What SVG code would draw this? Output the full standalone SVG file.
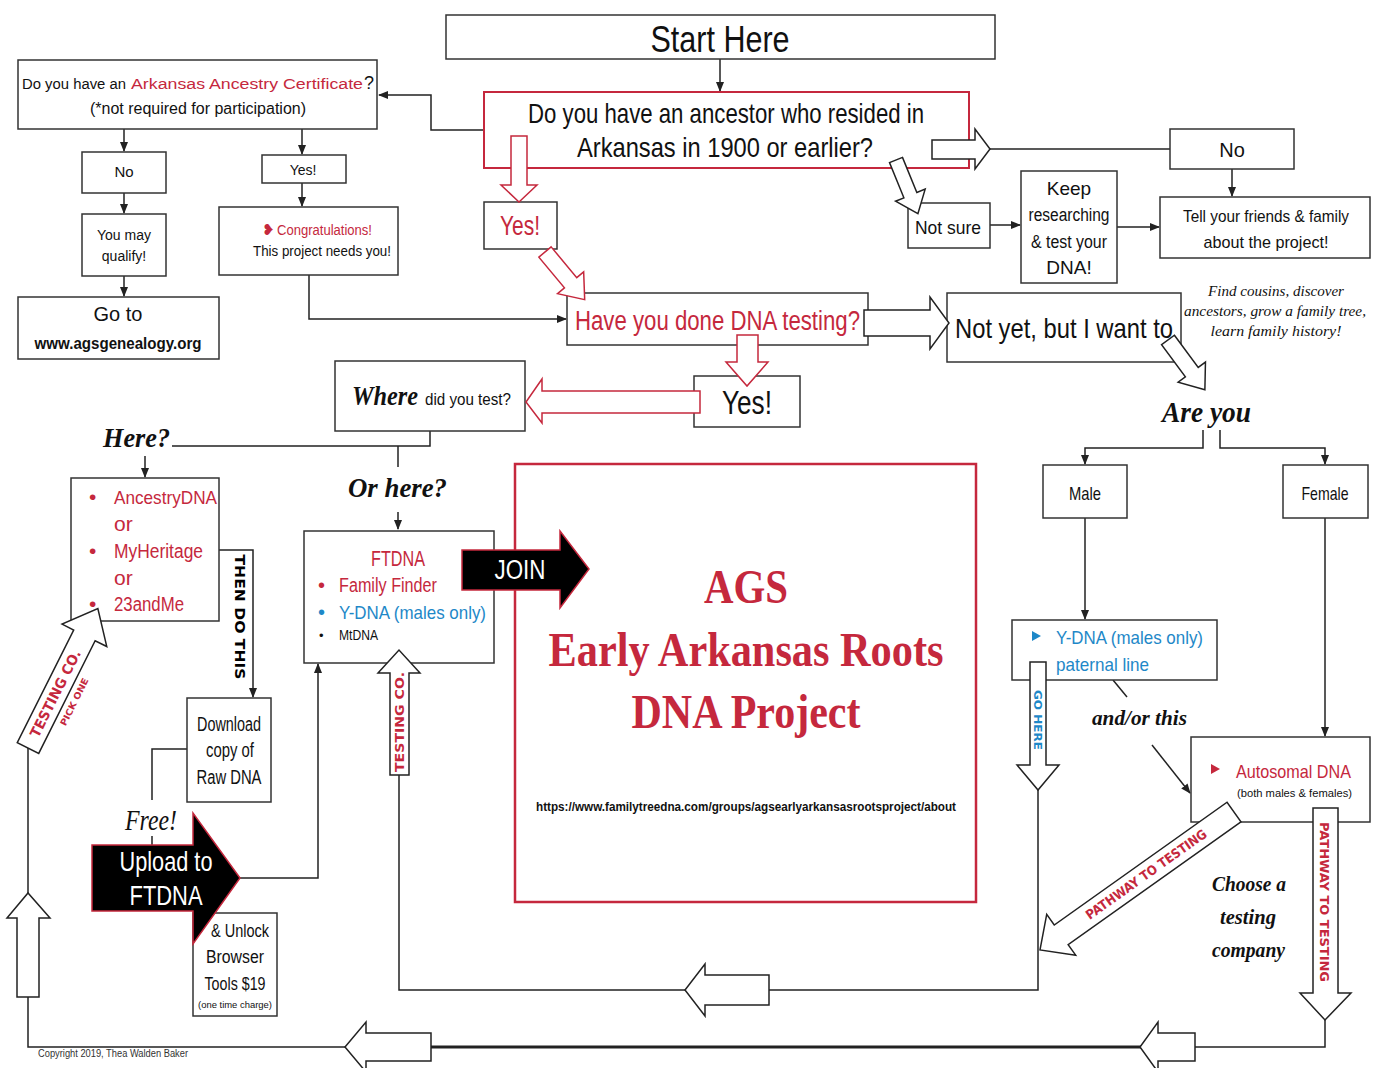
<svg xmlns="http://www.w3.org/2000/svg" width="1379" height="1068" viewBox="0 0 1379 1068">
<style>
.bx{fill:#fff;stroke:#333;stroke-width:1.5}
.rbx{fill:#fff;stroke:#c5283d;stroke-width:2}
.ln{fill:none;stroke:#222;stroke-width:1.5}
.ha{fill:#fff;stroke:#222;stroke-width:1.5;stroke-linejoin:miter}
.hr{fill:#fff;stroke:#c5283d;stroke-width:1.5}
.ba{fill:#000;stroke:#c5283d;stroke-width:1.5}
.t{font-family:'Liberation Sans Narrow','Liberation Sans',sans-serif;fill:#111}
.c{text-anchor:middle}
.red{fill:#c5283d}
.blu{fill:#1e88c8}
.wh{fill:#fff}
.sc{font-family:'Liberation Serif','DejaVu Serif',serif;font-style:italic;fill:#111}
.stamp{font-family:'DejaVu Sans',sans-serif;font-weight:bold}
.ttl{font-family:'Liberation Serif',serif;font-weight:bold;fill:#c5283d;text-anchor:middle}
</style>
<defs>
<marker id="ah" markerWidth="10" markerHeight="10" refX="9" refY="5" orient="auto" markerUnits="userSpaceOnUse"><path d="M0,1 L10,5 L0,9 z" fill="#222"/></marker>
</defs>
<rect width="1379" height="1068" fill="#fff"/>

<g id="connectors">
<path class="ln" d="M720,59 V91" marker-end="url(#ah)"/>
<path class="ln" d="M484,130 H431 V95 H379" marker-end="url(#ah)"/>
<path class="ln" d="M124,129 V151" marker-end="url(#ah)"/>
<path class="ln" d="M124,193 V213" marker-end="url(#ah)"/>
<path class="ln" d="M124,276 V296" marker-end="url(#ah)"/>
<path class="ln" d="M302,129 V154" marker-end="url(#ah)"/>
<path class="ln" d="M302,183 V206" marker-end="url(#ah)"/>
<path class="ln" d="M309,275 V319 H566" marker-end="url(#ah)"/>
<path class="ln" d="M990,149 H1170"/>
<path class="ln" d="M1232,169 V196" marker-end="url(#ah)"/>
<path class="ln" d="M990,225 H1020" marker-end="url(#ah)"/>
<path class="ln" d="M1117,227 H1159" marker-end="url(#ah)"/>
<path class="ln" d="M430,431 V446 H172"/>
<path class="ln" d="M145,456 V477" marker-end="url(#ah)"/>
<path class="ln" d="M398,446 V467"/>
<path class="ln" d="M398,512 V529" marker-end="url(#ah)"/>
<path class="ln" d="M219,550 H253 V697" marker-end="url(#ah)"/>
<path class="ln" d="M187,749 H152 V800 M152,836 V845"/>
<path class="ln" d="M240,878 H318 V664" marker-end="url(#ah)"/>
<path class="ln" d="M1203,430 V448 H1085 V464" marker-end="url(#ah)"/>
<path class="ln" d="M1220,430 V448 H1325 V464" marker-end="url(#ah)"/>
<path class="ln" d="M1085,518 V619" marker-end="url(#ah)"/>
<path class="ln" d="M1325,518 V736" marker-end="url(#ah)"/>
<path class="ln" d="M1113,680 L1127,697"/>
<path class="ln" d="M1152,745 L1190,793" marker-end="url(#ah)"/>
<path class="ln" d="M1038,790 V990 H769"/>
<path class="ln" d="M685,990 H399 V775"/>
<path class="ln" d="M1325,1020 V1047 H1195"/>
<path class="ln" d="M1158,1047 H431" style="stroke-width:3"/>
<path class="ln" d="M345,1047 H28 V997"/>
<path class="ln" d="M28,893 V748"/>
</g>

<g id="start-here"><rect class="bx" x="446" y="15" width="549" height="44"/><text class="t c" x="720" y="52" font-size="36" textLength="139" lengthAdjust="spacingAndGlyphs">Start Here</text></g>

<g id="ancestor-question"><rect class="rbx" x="484" y="92" width="485" height="76"/>
<text class="t c" x="726" y="123" font-size="28" textLength="396" lengthAdjust="spacingAndGlyphs">Do you have an ancestor who resided in</text>
<text class="t c" x="725" y="157" font-size="28" textLength="296" lengthAdjust="spacingAndGlyphs">Arkansas in 1900 or earlier?</text></g>

<g id="certificate"><rect class="bx" x="18" y="60" width="359" height="69"/>
<text class="t" x="22" y="89" font-size="15.5" textLength="104" lengthAdjust="spacingAndGlyphs">Do you have an</text>
<text class="t red" x="131" y="89" font-size="15.5" textLength="232" lengthAdjust="spacingAndGlyphs">Arkansas Ancestry Certificate</text>
<text class="t" x="364" y="89" font-size="18">?</text>
<text class="t" x="90" y="114" font-size="16" textLength="216" lengthAdjust="spacingAndGlyphs">(*not required for participation)</text></g>

<g id="cert-no"><rect class="bx" x="82" y="152" width="84" height="41"/><text class="t c" x="124" y="177" font-size="15">No</text></g>
<g id="may-qualify"><rect class="bx" x="82" y="214" width="84" height="62"/><text class="t c" x="124" y="240" font-size="14">You may</text><text class="t c" x="124" y="261" font-size="14">qualify!</text></g>
<g id="go-to"><rect class="bx" x="18" y="297" width="201" height="62"/><text class="t c" x="118" y="321" font-size="20">Go to</text><text class="t c" x="118" y="349" font-size="17" font-weight="bold" textLength="167" lengthAdjust="spacingAndGlyphs">www.agsgenealogy.org</text></g>
<g id="cert-yes"><rect class="bx" x="262" y="155" width="84" height="28"/><text class="t c" x="303" y="175" font-size="14">Yes!</text></g>
<g id="congrats"><rect class="bx" x="219" y="207" width="179" height="68"/>
<text x="262" y="235" font-size="15" class="red" style="font-family:'DejaVu Sans',sans-serif">❥</text>
<text class="t red" x="277" y="235" font-size="14" textLength="95" lengthAdjust="spacingAndGlyphs">Congratulations!</text>
<text class="t c" x="322" y="256" font-size="15" textLength="138" lengthAdjust="spacingAndGlyphs">This project needs you!</text></g>

<g id="yes-1"><rect class="bx" x="484" y="202" width="73" height="47"/><text class="t c red" x="520" y="235" font-size="28" textLength="40" lengthAdjust="spacingAndGlyphs">Yes!</text></g>
<g id="not-sure"><rect class="bx" x="908" y="203" width="82" height="45"/><text class="t c" x="948" y="234" font-size="19" textLength="66" lengthAdjust="spacingAndGlyphs">Not sure</text></g>
<g id="keep-researching"><rect class="bx" x="1021" y="171" width="96" height="112"/>
<text class="t c" x="1069" y="195" font-size="19">Keep</text>
<text class="t c" x="1069" y="221" font-size="18" textLength="81" lengthAdjust="spacingAndGlyphs">researching</text>
<text class="t c" x="1069" y="248" font-size="18" textLength="76" lengthAdjust="spacingAndGlyphs">&amp; test your</text>
<text class="t c" x="1069" y="274" font-size="19">DNA!</text></g>
<g id="no-right"><rect class="bx" x="1170" y="129" width="124" height="40"/><text class="t c" x="1232" y="157" font-size="20">No</text></g>
<g id="tell-friends"><rect class="bx" x="1160" y="197" width="210" height="61"/>
<text class="t c" x="1266" y="222" font-size="17" textLength="166" lengthAdjust="spacingAndGlyphs">Tell your friends &amp; family</text>
<text class="t c" x="1266" y="248" font-size="17" textLength="125" lengthAdjust="spacingAndGlyphs">about the project!</text></g>
<g id="find-cousins">
<text class="sc c" x="1276" y="296" font-size="15.5" textLength="136" lengthAdjust="spacingAndGlyphs">Find cousins, discover</text>
<text class="sc c" x="1275" y="316" font-size="15.5" textLength="182" lengthAdjust="spacingAndGlyphs">ancestors, grow a family tree,</text>
<text class="sc c" x="1276" y="336" font-size="15.5" textLength="131" lengthAdjust="spacingAndGlyphs">learn family history!</text></g>

<g id="dna-testing"><rect class="bx" x="567" y="293" width="301" height="52"/><text class="t red" x="575" y="330" font-size="27" textLength="285" lengthAdjust="spacingAndGlyphs">Have you done DNA testing?</text></g>
<g id="not-yet"><rect class="bx" x="947" y="293" width="234" height="69"/><text class="t" x="955" y="338" font-size="28" textLength="218" lengthAdjust="spacingAndGlyphs">Not yet, but I want to</text></g>
<g id="yes-2"><rect class="bx" x="694" y="376" width="106" height="51"/><text class="t" x="722" y="414" font-size="34" textLength="50" lengthAdjust="spacingAndGlyphs">Yes!</text></g>
<g id="where"><rect class="bx" x="335" y="361" width="190" height="70"/>
<text class="sc" x="352" y="405" font-size="27" font-weight="bold" textLength="66" lengthAdjust="spacingAndGlyphs">Where</text>
<text class="t" x="425" y="405" font-size="17" textLength="86" lengthAdjust="spacingAndGlyphs">did you test?</text></g>

<g id="here-label"><text class="sc" x="103" y="447" font-size="28" font-weight="bold" textLength="67" lengthAdjust="spacingAndGlyphs">Here?</text></g>
<g id="or-here-label"><text class="sc" x="348" y="497" font-size="28" font-weight="bold" textLength="99" lengthAdjust="spacingAndGlyphs">Or here?</text></g>

<g id="other-companies"><rect class="bx" x="71" y="478" width="148" height="143"/>
<text class="t red" x="89" y="504" font-size="21">•</text><text class="t red" x="114" y="504" font-size="19" textLength="103" lengthAdjust="spacingAndGlyphs">AncestryDNA</text>
<text class="t red" x="114" y="531" font-size="21">or</text>
<text class="t red" x="89" y="558" font-size="21">•</text><text class="t red" x="114" y="558" font-size="20" textLength="89" lengthAdjust="spacingAndGlyphs">MyHeritage</text>
<text class="t red" x="114" y="585" font-size="21">or</text>
<text class="t red" x="89" y="611" font-size="21">•</text><text class="t red" x="114" y="611" font-size="20" textLength="70" lengthAdjust="spacingAndGlyphs">23andMe</text></g>
<g id="then-do-this"><text class="stamp c" transform="translate(240,617) rotate(90)" x="0" y="5" font-size="14" textLength="125" lengthAdjust="spacingAndGlyphs">THEN DO THIS</text></g>

<g id="download"><rect class="bx" x="187" y="698" width="84" height="104"/>
<text class="t c" x="229" y="731" font-size="20" textLength="64" lengthAdjust="spacingAndGlyphs">Download</text>
<text class="t c" x="230" y="757" font-size="20" textLength="48" lengthAdjust="spacingAndGlyphs">copy of</text>
<text class="t c" x="229" y="784" font-size="20" textLength="65" lengthAdjust="spacingAndGlyphs">Raw DNA</text></g>
<g id="free-label"><text class="sc" x="125" y="830" font-size="30" textLength="52" lengthAdjust="spacingAndGlyphs">Free!</text></g>

<g id="unlock"><rect class="bx" x="193" y="913" width="84" height="103"/>
<text class="t c" x="240" y="937" font-size="18" textLength="58" lengthAdjust="spacingAndGlyphs">&amp; Unlock</text>
<text class="t c" x="235" y="963" font-size="18" textLength="58" lengthAdjust="spacingAndGlyphs">Browser</text>
<text class="t c" x="235" y="990" font-size="18" textLength="61" lengthAdjust="spacingAndGlyphs">Tools $19</text>
<text class="t c" x="235" y="1008" font-size="9" textLength="74" lengthAdjust="spacingAndGlyphs">(one time charge)</text></g>

<g id="ftdna"><rect class="bx" x="304" y="531" width="190" height="132"/>
<text class="t c red" x="398" y="566" font-size="22" textLength="54" lengthAdjust="spacingAndGlyphs">FTDNA</text>
<text class="t red" x="318" y="592" font-size="20">•</text><text class="t red" x="339" y="592" font-size="20" textLength="98" lengthAdjust="spacingAndGlyphs">Family Finder</text>
<text class="t blu" x="318" y="619" font-size="20">•</text><text class="t blu" x="339" y="619" font-size="19" textLength="147" lengthAdjust="spacingAndGlyphs">Y-DNA (males only)</text>
<text class="t" x="319" y="640" font-size="13">•</text><text class="t" x="339" y="640" font-size="14" textLength="39" lengthAdjust="spacingAndGlyphs">MtDNA</text></g>

<g id="ags-project"><rect x="515" y="464" width="461" height="438" fill="#fff" stroke="#c5283d" stroke-width="2.5"/>
<text class="ttl" x="746" y="603" font-size="48" textLength="84" lengthAdjust="spacingAndGlyphs">AGS</text>
<text class="ttl" x="746" y="666" font-size="48" textLength="395" lengthAdjust="spacingAndGlyphs">Early Arkansas Roots</text>
<text class="ttl" x="746" y="728" font-size="48" textLength="229" lengthAdjust="spacingAndGlyphs">DNA Project</text>
<text x="746" y="811" font-size="12" font-weight="bold" text-anchor="middle" style="font-family:'Liberation Sans',sans-serif" fill="#111" textLength="420" lengthAdjust="spacingAndGlyphs">https://www.familytreedna.com/groups/agsearlyarkansasrootsproject/about</text></g>

<g id="are-you-label"><text class="sc" x="1162" y="422" font-size="30" font-weight="bold" textLength="89" lengthAdjust="spacingAndGlyphs">Are you</text></g>
<g id="male"><rect class="bx" x="1043" y="465" width="84" height="53"/><text class="t c" x="1085" y="500" font-size="19" textLength="32" lengthAdjust="spacingAndGlyphs">Male</text></g>
<g id="female"><rect class="bx" x="1283" y="465" width="85" height="53"/><text class="t c" x="1325" y="500" font-size="19" textLength="47" lengthAdjust="spacingAndGlyphs">Female</text></g>
<g id="ydna"><rect class="bx" x="1012" y="620" width="205" height="60"/>
<polygon points="1032,631 1041,636 1032,641" fill="#1e88c8"/>
<text class="t blu" x="1056" y="644" font-size="19" textLength="147" lengthAdjust="spacingAndGlyphs">Y-DNA (males only)</text>
<text class="t blu" x="1056" y="671" font-size="19" textLength="93" lengthAdjust="spacingAndGlyphs">paternal line</text></g>
<g id="and-or-label"><text class="sc" x="1092" y="725" font-size="21" font-weight="bold" textLength="95" lengthAdjust="spacingAndGlyphs">and/or this</text></g>
<g id="autosomal"><rect class="bx" x="1191" y="737" width="179" height="85"/>
<polygon points="1211,764 1220,769 1211,774" fill="#c5283d"/>
<text class="t red" x="1236" y="778" font-size="19" textLength="115" lengthAdjust="spacingAndGlyphs">Autosomal DNA</text>
<text class="t" x="1237" y="797" font-size="11" textLength="115" lengthAdjust="spacingAndGlyphs">(both males &amp; females)</text></g>
<g id="choose-label">
<text class="sc" x="1212" y="891" font-size="21" font-weight="bold" textLength="74" lengthAdjust="spacingAndGlyphs">Choose a</text>
<text class="sc" x="1220" y="924" font-size="21" font-weight="bold" textLength="56" lengthAdjust="spacingAndGlyphs">testing</text>
<text class="sc" x="1212" y="957" font-size="21" font-weight="bold" textLength="73" lengthAdjust="spacingAndGlyphs">company</text></g>
<g id="copyright"><text x="38" y="1057" font-size="10" style="font-family:'Liberation Sans',sans-serif" fill="#333" textLength="150" lengthAdjust="spacingAndGlyphs">Copyright 2019, Thea Walden Baker</text></g>

<g id="block-arrows">
<polygon class="hr" points="511,136 527,136 527,185 537,185 519,202 501,185 511,185"/>
<path class="hr" transform="translate(545,252) rotate(50.2)" d="M0,-8 H40 V-17 L62,0 L40,17 V8 H0 Z"/>
<polygon class="ha" points="932,140 975,140 975,129 990,149 975,169 975,159 932,159"/>
<path class="ha" transform="translate(896,160) rotate(67.8)" d="M0,-7 H38 V-16 L58,0 L38,16 V7 H0 Z"/>
<polygon class="ha" points="864,310 930,310 930,297 949,323 930,349 930,336 864,336"/>
<path class="ha" transform="translate(1168,340) rotate(53.5)" d="M0,-8 H40 V-17 L62,0 L40,17 V8 H0 Z"/>
<polygon class="hr" points="737,335 758,335 758,362 768,362 747,386 726,362 737,362"/>
<polygon class="hr" points="700,391 542,391 542,379 526,402 542,423 542,413 700,413"/>
<g id="join-arrow"><polygon class="ba" points="462,550 560,550 560,531 589,569 560,608 560,590 462,590"/>
<text class="t c wh" x="520" y="579" font-size="27" textLength="51" lengthAdjust="spacingAndGlyphs">JOIN</text></g>
<g id="upload-arrow"><polygon class="ba" points="92,845 193,845 193,813 240,878 193,944 193,911 92,911"/>
<text class="t c wh" x="166" y="871" font-size="28" textLength="93" lengthAdjust="spacingAndGlyphs">Upload to</text>
<text class="t c wh" x="166" y="905" font-size="28" textLength="73" lengthAdjust="spacingAndGlyphs">FTDNA</text></g>
<g id="testing-co-up"><polygon class="ha" points="390,775 390,673 378,673 399,650 420,673 409,673 409,775"/>
<text class="stamp c red" transform="translate(399,722) rotate(-90)" x="0" y="5" font-size="13" textLength="100" lengthAdjust="spacingAndGlyphs">TESTING CO.</text></g>
<g id="go-here"><polygon class="ha" points="1030,662 1046,662 1046,765 1059,765 1038,790 1017,765 1030,765"/>
<text class="stamp c blu" transform="translate(1038,720) rotate(90)" x="0" y="4" font-size="11" textLength="60" lengthAdjust="spacingAndGlyphs">GO HERE</text></g>
<g id="pathway-diag"><path class="ha" transform="translate(1234,812) rotate(144.6)" d="M0,-12 H212 V-25 L238,0 L212,25 V12 H0 Z"/>
<text class="stamp c red" transform="translate(1146,874) rotate(-35.4)" x="0" y="5" font-size="13" textLength="145" lengthAdjust="spacingAndGlyphs">PATHWAY TO TESTING</text></g>
<g id="pathway-down"><polygon class="ha" points="1313,808 1338,808 1338,993 1351,993 1325,1020 1300,993 1313,993"/>
<text class="stamp c red" transform="translate(1325,902) rotate(90)" x="0" y="5" font-size="13" textLength="160" lengthAdjust="spacingAndGlyphs">PATHWAY TO TESTING</text></g>
<polygon class="ha" points="769,975 769,1005 705,1005 705,1016 685,990 705,964 705,975"/>
<polygon class="ha" points="1195,1033 1195,1061 1158,1061 1158,1072 1140,1047 1158,1022 1158,1033"/>
<polygon class="ha" points="431,1033 431,1061 366,1061 366,1072 345,1047 366,1022 366,1033"/>
<polygon class="ha" points="17,997 17,918 7,918 28,893 50,918 39,918 39,997"/>
<g id="testing-co-pick" transform="translate(28,748) rotate(-63.4)"><path class="ha" d="M0,-12 H126 V-25 L156,0 L126,25 V12 H0 Z"/>
<text class="stamp c red" x="61" y="5" font-size="14" textLength="96" lengthAdjust="spacingAndGlyphs">TESTING CO.</text>
<text class="stamp c red" x="62" y="24" font-size="9" textLength="52" lengthAdjust="spacingAndGlyphs">PICK ONE</text></g>
</g>
</svg>
